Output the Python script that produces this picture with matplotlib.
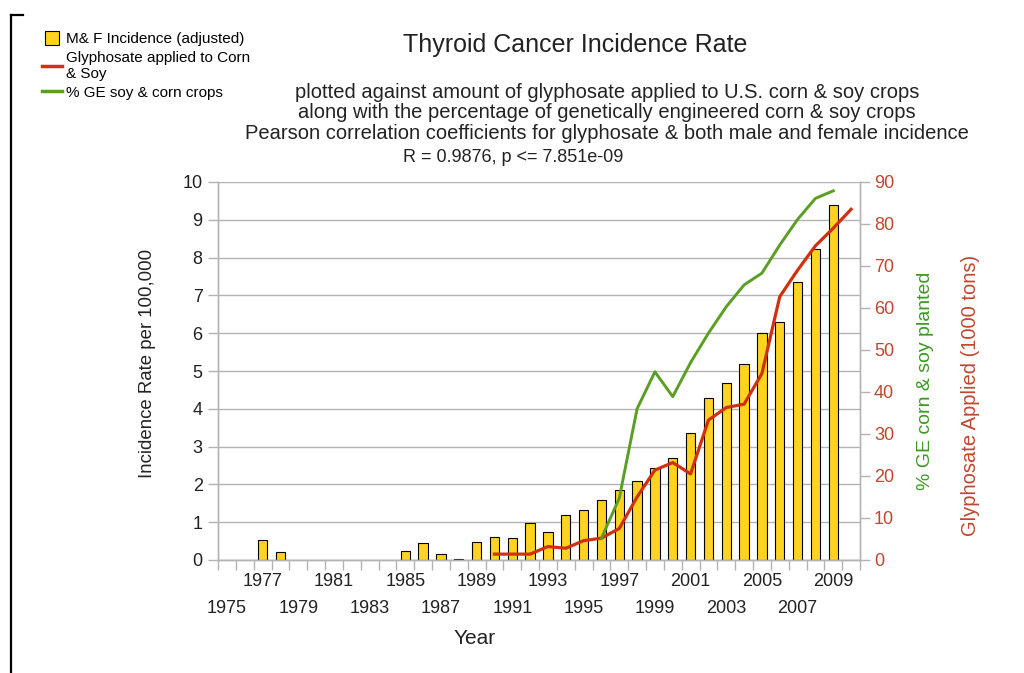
import numpy as np
import matplotlib
matplotlib.use("Agg")
import matplotlib.pyplot as plt
from matplotlib.lines import Line2D

plt.rcParams['font.family'] = ['Liberation Sans', 'DejaVu Sans']

# data
bar_years = [1977, 1978, 1985, 1986, 1987, 1988, 1989, 1990, 1991, 1992, 1993, 1994,
             1995, 1996, 1997, 1998, 1999, 2000, 2001, 2002, 2003, 2004, 2005, 2006,
             2007, 2008, 2009]
incidence = [0.54, 0.2, 0.23, 0.44, 0.17, 0.02, 0.47, 0.6, 0.57, 0.98, 0.74, 1.18,
             1.31, 1.58, 1.86, 2.09, 2.43, 2.71, 3.35, 4.29, 4.67, 5.19, 6.0, 6.3,
             7.35, 8.24, 9.38]

gly_years = list(range(1990, 2011))
glyphosate = [1.4, 1.4, 1.4, 3.2, 2.8, 4.6, 5.2, 7.5, 15.0, 21.4, 23.2, 20.5,
              33.3, 36.3, 37.1, 44.4, 62.7, 69.0, 74.8, 79.0, 83.5]

ge_years = list(range(1996, 2010))
ge_pct = [5.2, 14.7, 36.0, 44.8, 38.9, 47.0, 54.0, 60.3, 65.5, 68.3, 75.0, 81.1, 86.1, 87.9]

top_row_years = list(range(1977, 2010, 4))
low_row_years = list(range(1975, 2010, 4))

YELLOW = "#FFD320"
RED = "#D1300F"
GREEN = "#5A9E22"
RTXT = "#C0472E"
GRID = "#B3B3B3"
TXT = "#222222"

fig = plt.figure(figsize=(10.24, 6.73), dpi=100)
ax = fig.add_axes([218 / 1024, 1 - 560 / 673, 642 / 1024, 378 / 673])
ax2 = ax.twinx()

ax.bar(bar_years, incidence, width=0.52, color=YELLOW, edgecolor="black", lw=0.8, zorder=2)
ax2.plot(gly_years, glyphosate, color=RED, lw=2.3, zorder=3)
ax2.plot(ge_years, ge_pct, color=GREEN, lw=2.1, zorder=3)

ax.set_xlim(1974.5, 2010.5)
ax.set_ylim(0, 10)
ax2.set_ylim(0, 90)
ax.set_yticks(range(0, 11))
ax2.set_yticks(range(0, 91, 10))
ax.yaxis.grid(True, color=GRID, lw=1)
ax.set_axisbelow(True)

# staggered year labels: top row on the main axis, lower row on a secondary one
ax.set_xticks(top_row_years, [str(y) for y in top_row_years])
ax.set_xticks(np.arange(1974.5, 2011, 1), minor=True)
ax.tick_params(axis="x", which="major", length=0, pad=9, labelsize=13, labelcolor=TXT)
ax.tick_params(axis="x", which="minor", length=7, color=GRID, width=1)
sec = ax.secondary_xaxis("bottom")
sec.set_xticks(low_row_years, [str(y) for y in low_row_years])
sec.tick_params(axis="x", length=0, pad=29, labelsize=13, labelcolor=TXT)
sec.spines["bottom"].set_visible(False)

ax.tick_params(axis="y", length=7, color=GRID, width=1, labelsize=13, labelcolor=TXT, pad=4)
ax2.tick_params(axis="y", length=7, color=GRID, width=1, labelsize=13, labelcolor=RTXT, pad=3)

for a in (ax, ax2):
    a.spines["top"].set_visible(False)
    for s in ("left", "right", "bottom"):
        a.spines[s].set_color(GRID)
        a.spines[s].set_linewidth(1)

ax.set_ylabel("Incidence Rate per 100,000", fontsize=13.4, color=TXT)
ax.yaxis.set_label_coords(-0.097, 0.52)

fig.text(475 / 1024, 1 - 638 / 673, "Year", fontsize=15, ha="center", va="center", color=TXT)
fig.text(926 / 1024, 1 - 381 / 673, "% GE corn & soy planted", fontsize=14, rotation=90,
         ha="center", va="center", color="#3A9A1E")
fig.text(970 / 1024, 1 - 395 / 673, "Glyphosate Applied (1000 tons)", fontsize=14.5, rotation=90,
         ha="center", va="center", color=RTXT)

fig.text(575 / 1024, 1 - 45 / 673, "Thyroid Cancer Incidence Rate", fontsize=18,
         ha="center", va="center", color=TXT)
fig.text(607 / 1024, 1 - 113 / 673,
         "plotted against amount of glyphosate applied to U.S. corn & soy crops\n"
         "along with the percentage of genetically engineered corn & soy crops\n"
         "Pearson correlation coefficients for glyphosate & both male and female incidence",
         fontsize=14.5, ha="center", va="center", linespacing=1.1, color=TXT)
fig.text(513 / 1024, 1 - 158 / 673, "R = 0.9876, p <= 7.851e-09", fontsize=13,
         ha="center", va="center", color=TXT)

handles = [
    Line2D([], [], marker="s", ls="none", ms=10, mfc=YELLOW, mec="black", mew=0.8),
    Line2D([], [], color=RED, lw=2.5),
    Line2D([], [], color=GREEN, lw=2.5),
]
fig.legend(handles, ["M& F Incidence (adjusted)", "Glyphosate applied to Corn\n& Soy",
                     "% GE soy & corn crops"],
           loc="upper left", bbox_to_anchor=(0.041, 0.952), frameon=False, fontsize=11,
           handlelength=1.3, handletextpad=0.3, labelspacing=0.3, borderpad=0, borderaxespad=0)

# corner bracket at the left edge
fig.add_artist(Line2D([11 / 1024, 11 / 1024], [0, 1 - 15 / 673], color="black", lw=1.6))
fig.add_artist(Line2D([11 / 1024, 23 / 1024], [1 - 15 / 673, 1 - 15 / 673], color="black", lw=1.6))

fig.savefig("out.png", dpi=100)
